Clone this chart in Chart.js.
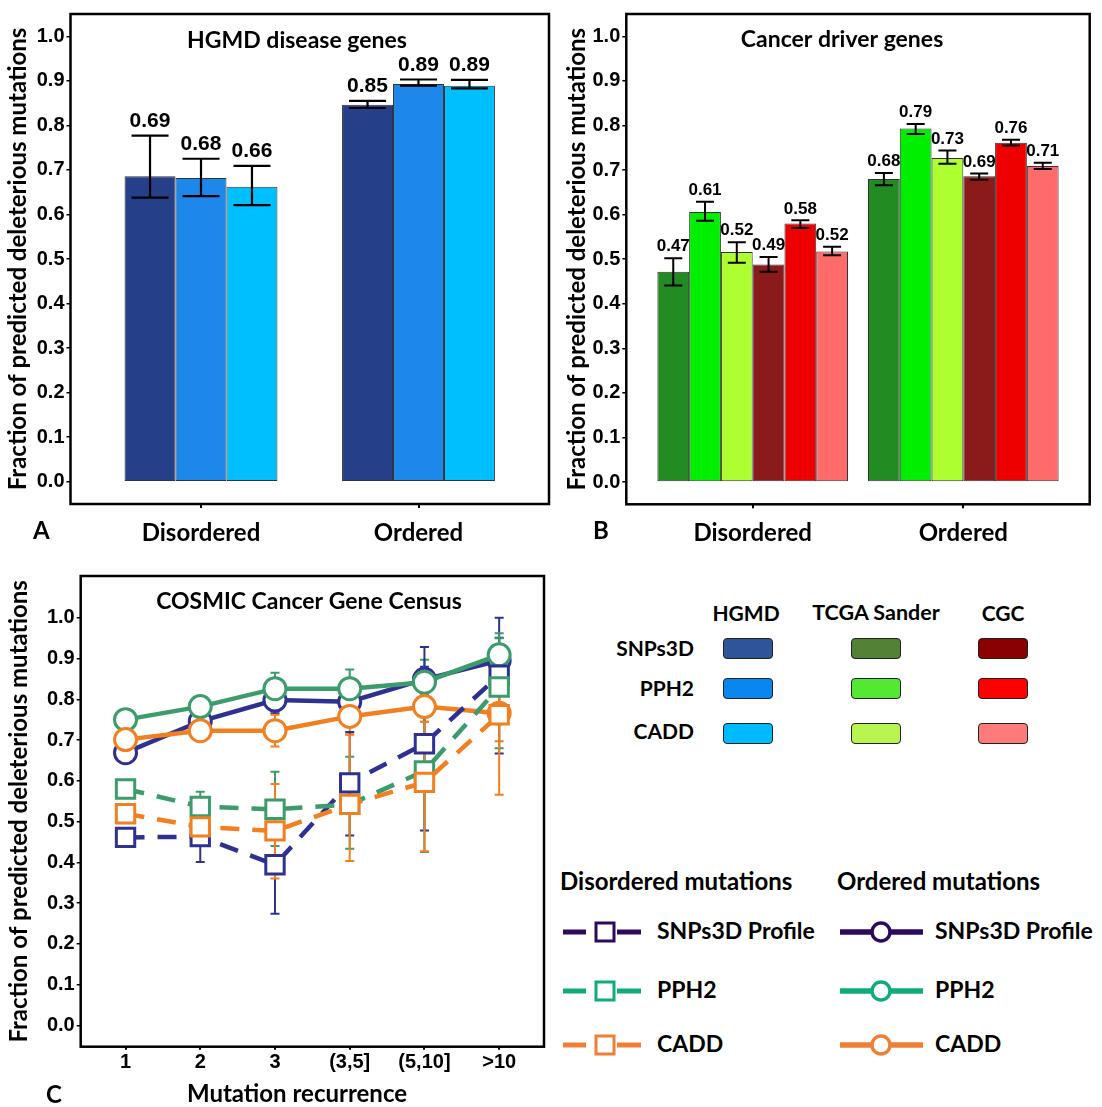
<!DOCTYPE html>
<html><head><meta charset="utf-8">
<script src="https://cdn.jsdelivr.net/npm/chart.js@4.4.1/dist/chart.umd.min.js"></script>
<style>
html,body{margin:0;padding:0;background:#fff}
body{width:1102px;height:1107px;position:relative;overflow:hidden;font-family:Lato,"Open Sans",sans-serif}
canvas{position:absolute}
.t{position:absolute;font-weight:bold;color:#000;white-space:nowrap;line-height:1}
.sw{position:absolute;width:48px;height:19px;border:1.5px solid #222;border-radius:4px;box-sizing:content-box}
svg{position:absolute;left:0;top:0}
</style></head><body>
<canvas id="cA" width="560" height="550" style="left:0;top:0"></canvas>
<canvas id="cB" width="542" height="550" style="left:560px;top:0"></canvas>
<canvas id="cC" width="560" height="547" style="left:0;top:560px"></canvas>

<div class="t" style="left:33px;top:518px;font-size:24px">A</div>
<div class="t" style="left:593px;top:518px;font-size:24px">B</div>
<div class="t" style="left:46px;top:1082px;font-size:24px">C</div>

<!-- Legend for bar panels -->
<div class="t" style="left:706px;top:602px;font-size:21px;width:80px;text-align:center">HGMD</div>
<div class="t" style="left:806px;top:602px;font-size:21.5px;width:140px;text-align:center">TCGA Sander</div>
<div class="t" style="left:963px;top:602px;font-size:21px;width:80px;text-align:center">CGC</div>
<div class="t" style="left:574px;top:637px;font-size:21px;width:120px;text-align:right">SNPs3D</div>
<div class="t" style="left:574px;top:677px;font-size:21px;width:120px;text-align:right">PPH2</div>
<div class="t" style="left:574px;top:720px;font-size:21px;width:120px;text-align:right">CADD</div>
<div id="legBars"></div>

<!-- Legend for line panel -->
<div class="t" style="left:560px;top:869px;font-size:24px">Disordered mutations</div>
<div class="t" style="left:837px;top:869px;font-size:24px">Ordered mutations</div>
<div class="t" style="left:657px;top:919px;font-size:23px">SNPs3D Profile</div>
<div class="t" style="left:657px;top:978px;font-size:23px">PPH2</div>
<div class="t" style="left:657px;top:1032px;font-size:23px">CADD</div>
<div class="t" style="left:935px;top:919px;font-size:23px">SNPs3D Profile</div>
<div class="t" style="left:935px;top:978px;font-size:23px">PPH2</div>
<div class="t" style="left:935px;top:1032px;font-size:23px">CADD</div>
<svg id="legLines" width="1102" height="1107"></svg>

<script>
// ---------------- DATA ----------------
const barGroups = ['Disordered', 'Ordered'];
const yTickValues = [0, 0.1, 0.2, 0.3, 0.4, 0.5, 0.6, 0.7, 0.8, 0.9, 1.0];

// Panel A: HGMD disease genes
const hgmdSNPs3D   = [0.686, 0.846];
const hgmdSNPs3DLo = [0.638, 0.839];
const hgmdSNPs3DHi = [0.777, 0.855];
const hgmdPPH2     = [0.682, 0.893];
const hgmdPPH2Lo   = [0.641, 0.889];
const hgmdPPH2Hi   = [0.725, 0.903];
const hgmdCADD     = [0.662, 0.889];
const hgmdCADDLo   = [0.621, 0.883];
const hgmdCADDHi   = [0.709, 0.902];

// Panel B: Cancer driver genes (TCGA Sander, CGC)
const tcgaSNPs3D   = [0.472, 0.680];
const tcgaSNPs3DLo = [0.441, 0.666];
const tcgaSNPs3DHi = [0.502, 0.693];
const tcgaPPH2     = [0.606, 0.793];
const tcgaPPH2Lo   = [0.586, 0.781];
const tcgaPPH2Hi   = [0.629, 0.803];
const tcgaCADD     = [0.516, 0.727];
const tcgaCADDLo   = [0.492, 0.714];
const tcgaCADDHi   = [0.538, 0.744];
const cgcSNPs3D    = [0.488, 0.686];
const cgcSNPs3DLo  = [0.472, 0.678];
const cgcSNPs3DHi  = [0.505, 0.692];
const cgcPPH2      = [0.580, 0.761];
const cgcPPH2Lo    = [0.570, 0.755];
const cgcPPH2Hi    = [0.587, 0.768];
const cgcCADD      = [0.517, 0.709];
const cgcCADDLo    = [0.509, 0.702];
const cgcCADDHi    = [0.528, 0.716];

// Panel C: COSMIC Cancer Gene Census
const recurrence = ['1', '2', '3', '(3,5]', '(5,10]', '>10'];
const ordSNPs3D   = [0.669, 0.746, 0.798, 0.794, 0.849, 0.895];
const ordSNPs3DLo = [0.660, 0.735, 0.766, 0.760, 0.815, 0.860];
const ordSNPs3DHi = [0.678, 0.757, 0.830, 0.830, 0.880, 0.951];
const ordPPH2     = [0.750, 0.782, 0.826, 0.826, 0.842, 0.909];
const ordPPH2Lo   = [0.742, 0.772, 0.790, 0.782, 0.811, 0.870];
const ordPPH2Hi   = [0.758, 0.792, 0.865, 0.873, 0.897, 0.950];
const ordCADD     = [0.701, 0.723, 0.723, 0.758, 0.782, 0.766];
const ordCADDLo   = [0.692, 0.712, 0.684, 0.714, 0.745, 0.697];
const ordCADDHi   = [0.710, 0.734, 0.762, 0.800, 0.820, 0.840];
const disSNPs3D   = [0.461, 0.463, 0.394, 0.595, 0.691, 0.859];
const disSNPs3DLo = [0.447, 0.401, 0.274, 0.466, 0.478, 0.667];
const disSNPs3DHi = [0.475, 0.525, 0.514, 0.720, 0.928, 1.000];
const disPPH2     = [0.580, 0.537, 0.530, 0.542, 0.624, 0.830];
const disPPH2Lo   = [0.566, 0.505, 0.440, 0.433, 0.425, 0.680];
const disPPH2Hi   = [0.594, 0.573, 0.622, 0.659, 0.800, 0.962];
const disCADD     = [0.519, 0.487, 0.477, 0.542, 0.596, 0.762];
const disCADDLo   = [0.505, 0.460, 0.360, 0.403, 0.427, 0.566];
const disCADDHi   = [0.533, 0.515, 0.592, 0.713, 0.745, 0.900];

// ---------------- STYLE ----------------
const TICK_FONT = {family: '"Liberation Sans", Arial, sans-serif', size: 20, weight: 'bold'};
const TITLE_FAMILY = 'Lato, "Open Sans", sans-serif';
const YTITLE = 'Fraction of predicted deleterious mutations';

const framePlugin = {
  id: 'frame',
  afterDraw(chart, args, o) {
    const a = chart.chartArea, ctx = chart.ctx;
    ctx.save();
    ctx.lineWidth = 2.5; ctx.strokeStyle = '#000';
    ctx.strokeRect(a.left, a.top, a.right - a.left, a.bottom - a.top);
    ctx.font = 'bold ' + o.size + 'px ' + TITLE_FAMILY;
    ctx.fillStyle = '#000'; ctx.textAlign = 'center'; ctx.textBaseline = 'middle';
    ctx.fillText(o.title, o.cx, a.top + o.dy);
    if (o.xTitle) {
      ctx.font = 'bold ' + o.xSize + 'px ' + TITLE_FAMILY;
      ctx.fillText(o.xTitle, o.xcx, a.bottom + o.xdy);
    }
    ctx.restore();
  }
};

const barErrPlugin = {
  id: 'barErr',
  afterDatasetsDraw(chart, args, o) {
    const ctx = chart.ctx, y = chart.scales.y;
    chart.data.datasets.forEach((ds, di) => {
      const meta = chart.getDatasetMeta(di);
      meta.data.forEach((bar, i) => {
        const x = bar.x;
        const yl = y.getPixelForValue(ds.errLo[i]), yh = y.getPixelForValue(ds.errHi[i]);
        const c = o.cap / 2;
        ctx.save();
        ctx.strokeStyle = '#000'; ctx.lineWidth = o.lw;
        ctx.beginPath();
        ctx.moveTo(x, yl); ctx.lineTo(x, yh);
        ctx.moveTo(x - c, yl); ctx.lineTo(x + c, yl);
        ctx.moveTo(x - c, yh); ctx.lineTo(x + c, yh);
        ctx.stroke();
        ctx.fillStyle = '#000';
        ctx.font = 'bold ' + o.font + 'px "Liberation Sans", Arial, sans-serif';
        ctx.textAlign = 'center'; ctx.textBaseline = 'bottom';
        ctx.fillText(ds.data[i].y.toFixed(2), x, yh - o.gap);
        ctx.restore();
      });
    });
  }
};

function yScale(width, min, max, titlePad) {
  return {
    type: 'linear', min: min, max: max,
    afterBuildTicks: s => { s.ticks = yTickValues.map(v => ({value: v})); },
    afterFit: s => { s.width = width; },
    ticks: {font: TICK_FONT, color: '#000', padding: 2, callback: v => Number(v).toFixed(1)},
    grid: {drawOnChartArea: false, drawTicks: true, tickLength: 4, color: '#000', lineWidth: 1.5, offset: false},
    border: {display: false},
    title: {display: true, text: YTITLE, color: '#000',
            font: {family: TITLE_FAMILY, size: 24, weight: 'bold'}, padding: {top: titlePad, bottom: 0}}
  };
}

function barXScale(height, labels) {
  return {
    type: 'linear', min: 0.4, max: 2.6, offset: false,
    afterBuildTicks: s => { s.ticks = labels.map((l, i) => ({value: i + 1})); },
    afterFit: s => { s.height = height; },
    ticks: {font: {family: TITLE_FAMILY, size: 24, weight: 'bold'}, color: '#000', padding: 11,
            maxRotation: 0, autoSkip: false, callback: v => labels[Math.round(v) - 1]},
    grid: {drawOnChartArea: false, drawTicks: true, tickLength: 4, color: '#000', lineWidth: 2, offset: false},
    border: {display: false}
  };
}

function barDs(label, vals, lo, hi, color) {
  return {label: label, data: vals.map((v, i) => ({x: i + 1, y: v})), errLo: lo, errHi: hi,
          backgroundColor: color, borderColor: '#333', borderWidth: 1, borderSkipped: false,
          categoryPercentage: 1, barPercentage: 1};
}

// ---------------- PANEL A ----------------
new Chart(document.getElementById('cA'), {
  type: 'bar',
  data: {datasets: [
    barDs('SNPs3D', hgmdSNPs3D, hgmdSNPs3DLo, hgmdSNPs3DHi, '#253f88'),
    barDs('PPH2', hgmdPPH2, hgmdPPH2Lo, hgmdPPH2Hi, '#1e88ea'),
    barDs('CADD', hgmdCADD, hgmdCADDLo, hgmdCADDHi, '#00bfff')
  ].map(d => Object.assign(d, {categoryPercentage: 0.703}))},
  options: {
    responsive: false, animation: false,
    layout: {padding: {top: 9, right: 11, left: 0, bottom: 0}},
    scales: {x: barXScale(46, barGroups), y: yScale(70.5, -0.05, 1.05, 4)},
    plugins: {legend: {display: false}, tooltip: {enabled: false},
      frame: {title: 'HGMD disease genes', cx: 297, dy: 27, size: 23},
      barErr: {cap: 37, lw: 2.2, font: 21, gap: 4}}
  },
  plugins: [framePlugin, barErrPlugin]
});

// ---------------- PANEL B ----------------
new Chart(document.getElementById('cB'), {
  type: 'bar',
  data: {datasets: [
    barDs('TCGA SNPs3D', tcgaSNPs3D, tcgaSNPs3DLo, tcgaSNPs3DHi, '#228b22'),
    barDs('TCGA PPH2', tcgaPPH2, tcgaPPH2Lo, tcgaPPH2Hi, '#00ee00'),
    barDs('TCGA CADD', tcgaCADD, tcgaCADDLo, tcgaCADDHi, '#adff2f'),
    barDs('CGC SNPs3D', cgcSNPs3D, cgcSNPs3DLo, cgcSNPs3DHi, '#8b1a1a'),
    barDs('CGC PPH2', cgcPPH2, cgcPPH2Lo, cgcPPH2Hi, '#ee0000'),
    barDs('CGC CADD', cgcCADD, cgcCADDLo, cgcCADDHi, '#ff6a6a')
  ].map(d => Object.assign(d, {categoryPercentage: 0.905}))},
  options: {
    responsive: false, animation: false,
    layout: {padding: {top: 10, right: 12.3, left: 0, bottom: 0}},
    scales: {x: barXScale(45.7, barGroups), y: yScale(66.3, -0.05, 1.05, 3)},
    plugins: {legend: {display: false}, tooltip: {enabled: false},
      frame: {title: 'Cancer driver genes', cx: 282, dy: 26, size: 23},
      barErr: {cap: 18, lw: 2, font: 17, gap: 3}}
  },
  plugins: [framePlugin, barErrPlugin]
});

// ---------------- PANEL C ----------------
const errLinePlugin = {
  id: 'errLine',
  beforeDatasetsDraw(chart) {
    const ctx = chart.ctx, x = chart.scales.x, y = chart.scales.y;
    chart.data.datasets.forEach(ds => {
      ds.data.forEach((p, i) => {
        const px = x.getPixelForValue(p.x);
        const yl = y.getPixelForValue(ds.errLo[i]), yh = y.getPixelForValue(ds.errHi[i]);
        ctx.save();
        ctx.strokeStyle = ds.borderColor; ctx.lineWidth = 2;
        ctx.beginPath();
        ctx.moveTo(px, yl); ctx.lineTo(px, yh);
        ctx.moveTo(px - 4.5, yl); ctx.lineTo(px + 4.5, yl);
        ctx.moveTo(px - 4.5, yh); ctx.lineTo(px + 4.5, yh);
        ctx.stroke();
        ctx.restore();
      });
    });
  }
};

function lineDs(label, vals, lo, hi, color, dashed, order) {
  return {
    label: label, data: vals.map((v, i) => ({x: i + 1, y: v})), errLo: lo, errHi: hi,
    borderColor: color, backgroundColor: '#fff', borderWidth: 4.5,
    borderDash: dashed ? [19, 13] : [], tension: 0, order: order,
    pointStyle: dashed ? 'rect' : 'circle', pointRadius: dashed ? 13 : 11,
    pointBorderWidth: 3, pointBackgroundColor: '#fff', pointBorderColor: color
  };
}
const NAVY = '#2e3192', GREEN = '#3c9c6c', ORANGE = '#f27f20';

new Chart(document.getElementById('cC'), {
  type: 'line',
  data: {datasets: [
    lineDs('Ordered SNPs3D Profile', ordSNPs3D, ordSNPs3DLo, ordSNPs3DHi, NAVY, false, 6),
    lineDs('Ordered PPH2', ordPPH2, ordPPH2Lo, ordPPH2Hi, GREEN, false, 5),
    lineDs('Ordered CADD', ordCADD, ordCADDLo, ordCADDHi, ORANGE, false, 4),
    lineDs('Disordered SNPs3D Profile', disSNPs3D, disSNPs3DLo, disSNPs3DHi, NAVY, true, 3),
    lineDs('Disordered PPH2', disPPH2, disPPH2Lo, disPPH2Hi, GREEN, true, 2),
    lineDs('Disordered CADD', disCADD, disCADDLo, disCADDHi, ORANGE, true, 1)
  ]},
  options: {
    responsive: false, animation: false,
    layout: {padding: {top: 9, right: 15, left: 0, bottom: 0}},
    scales: {
      x: {
        type: 'linear', min: 0.4, max: 6.6, offset: false,
        afterBuildTicks: s => { s.ticks = recurrence.map((r, i) => ({value: i + 1})); },
        afterFit: s => { s.height = 60.3; },
        ticks: {font: TICK_FONT, color: '#000', padding: 1, maxRotation: 0, autoSkip: false,
                callback: v => recurrence[Math.round(v) - 1]},
        grid: {drawOnChartArea: false, drawTicks: true, tickLength: 3, color: '#000', lineWidth: 2, offset: false},
        border: {display: false}
      },
      y: yScale(80.7, -0.0525, 1.1025, 5)
    },
    plugins: {legend: {display: false}, tooltip: {enabled: false},
      frame: {title: 'COSMIC Cancer Gene Census', cx: 309, dy: 26, size: 23,
              xTitle: 'Mutation recurrence', xcx: 297, xdy: 48, xSize: 24}}
  },
  plugins: [framePlugin, errLinePlugin]
});

// ---------------- LEGENDS (non-data decorations) ----------------
const legendSwatches = [
  ['#2e5597', '#0a86ef', '#00bbff'],
  ['#538135', '#55e832', '#b8f550'],
  ['#8b0000', '#ff0000', '#ff7b7b']
];
const swX = [723, 851, 978], swY = [638, 678, 723];
let html = '';
legendSwatches.forEach((col, ci) => col.forEach((c, ri) => {
  html += '<div class="sw" style="left:' + swX[ci] + 'px;top:' + swY[ri] + 'px;background:' + c + '"></div>';
}));
document.getElementById('legBars').innerHTML = html;

const legColors = ['#2d0a5e', '#0fab7b', '#ef7f37'];
const legY = [932, 991, 1045];
let svg = '';
legColors.forEach((c, i) => {
  const y = legY[i];
  svg += '<line x1="563" y1="' + y + '" x2="586" y2="' + y + '" stroke="' + c + '" stroke-width="5"/>';
  svg += '<line x1="617" y1="' + y + '" x2="641" y2="' + y + '" stroke="' + c + '" stroke-width="5"/>';
  svg += '<rect x="596" y="' + (y - 9) + '" width="18" height="18" fill="#fff" stroke="' + c + '" stroke-width="3"/>';
  svg += '<line x1="840" y1="' + y + '" x2="923" y2="' + y + '" stroke="' + c + '" stroke-width="5.5"/>';
  svg += '<circle cx="881" cy="' + y + '" r="9" fill="#fff" stroke="' + c + '" stroke-width="3.5"/>';
});
document.getElementById('legLines').innerHTML = svg;
</script>
</body></html>
